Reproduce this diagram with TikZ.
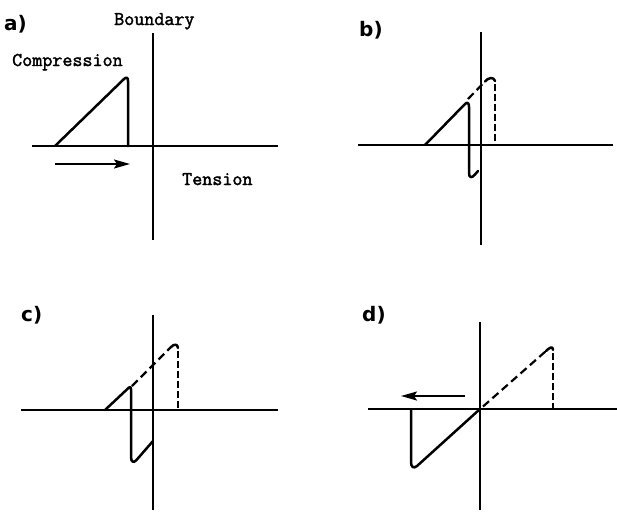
\documentclass[tikz,border=0pt]{standalone}
\usepackage{fontspec}
\newfontfamily\labfont{DejaVu Sans Bold}
\newfontfamily\twfont{Latin Modern Mono}[FakeBold=2]
\usetikzlibrary{arrows.meta}
\begin{document}
\begin{tikzpicture}[x=1pt,y=-1pt,
  axis/.style={line width=2pt},
  curve/.style={line width=2.5pt,line join=round,line cap=round},
  dcurve/.style={line width=2.2pt,dash pattern=on 8pt off 4.5pt},
  vdash/.style={line width=2.2pt,dash pattern=on 7pt off 3pt},
  mvarrow/.style={line width=2pt,-{Stealth[length=16pt,width=9pt,inset=3pt]}},
  txt/.style={inner sep=0pt,anchor=base west,font=\twfont\fontsize{19.5}{21}\selectfont},
  lab/.style={inner sep=0pt,anchor=base west,font=\labfont\fontsize{20}{22}\selectfont}]
\useasboundingbox (0,0) rectangle (617,512);

% ---------- panel a ----------
\node[lab] (la) at (4,30) {a)};
\node[txt] (tb) at (114,25) {Boundary};
\node[txt] (tc) at (12,66) {Compression};
\node[txt] (tt) at (182,185) {Tension};
\coordinate (aT) at (153,33);  \coordinate (aB) at (153,240);
\coordinate (aL) at (32,146);  \coordinate (aR) at (278,146);
\draw[axis] (aT) -- (aB);
\draw[axis] (aL) -- (aR);
\coordinate (a0) at (55,146);
\coordinate (a1) at (124,79);
\coordinate (a2) at (128,146);
\draw[curve] (a0) -- (a1) .. controls (126.5,76.5) and (128,77.5) .. (128,81) -- (a2);
\coordinate (aaS) at (55,164);   \coordinate (aaE) at (130,164);
\draw[mvarrow] (aaS) -- (aaE);

% ---------- panel b ----------
\node[lab] (lb) at (359,36) {b)};
\coordinate (bT) at (481,32);  \coordinate (bB) at (481,245);
\coordinate (bL) at (358,145); \coordinate (bR) at (613,145);
\draw[axis] (bT) -- (bB);
\draw[axis] (bL) -- (bR);
\coordinate (b0) at (425,145);
\coordinate (b1) at (465,104);
\coordinate (b2) at (478,171);
\draw[curve] (b0) -- (b1) .. controls (467.5,101.5) and (469,103) .. (469,107)
  -- (469,173) .. controls (469,178.5) and (472,178) .. (475,174.5) -- (b2);
\coordinate (b3) at (468,99);
\coordinate (b4) at (495,145);
\draw[dcurve] (b3) -- (485,81.5);
\draw[curve] (485,81.5) .. controls (488,77.5) and (494,76.5) .. (495,81);
\draw[vdash] (495,84) -- (b4);

% ---------- panel c ----------
\node[lab] (lc) at (21,321) {c)};
\coordinate (cT) at (153,315); \coordinate (cB) at (153,510);
\coordinate (cL) at (21,410);  \coordinate (cR) at (278,410);
\draw[axis] (cT) -- (cB);
\draw[axis] (cL) -- (cR);
\coordinate (c0) at (105,410);
\coordinate (c1) at (129,387.5);
\coordinate (c2) at (153,441);
\draw[curve] (c0) -- (c1) .. controls (130.3,386.3) and (131,387) .. (131,389.5)
  -- (131,457) .. controls (131,462.5) and (134,463) .. (136.5,460) -- (c2);
\coordinate (c3) at (132,386);
\coordinate (c4) at (178,409);
\draw[dcurve] (c3) -- (171,347);
\draw[curve] (171,347) .. controls (174,344) and (177.5,343.5) .. (178,348);
\draw[vdash] (178,351) -- (c4);

% ---------- panel d ----------
\node[lab] (ld) at (362,321) {d)};
\coordinate (dT) at (480,322); \coordinate (dB) at (480,510);
\coordinate (dL) at (368,409); \coordinate (dR) at (617,409);
\draw[axis] (dT) -- (dB);
\draw[axis] (dL) -- (dR);
\coordinate (d0) at (480,409);
\coordinate (d1) at (417,466);
\coordinate (d2) at (411,409);
\draw[curve] (d0) -- (d1) .. controls (413.5,469) and (411,467) .. (411,462) -- (d2);
\coordinate (d3) at (483,406.5);
\coordinate (d4) at (553,409);
\draw[dcurve] (d3) -- (546,351);
\draw[curve] (546,351) .. controls (549.5,347.5) and (553,345.5) .. (553,350);
\draw[vdash] (553,353) -- (d4);
\coordinate (daS) at (465,396); \coordinate (daE) at (401,396);
\draw[mvarrow] (daS) -- (daE);
\end{tikzpicture}
\end{document}
